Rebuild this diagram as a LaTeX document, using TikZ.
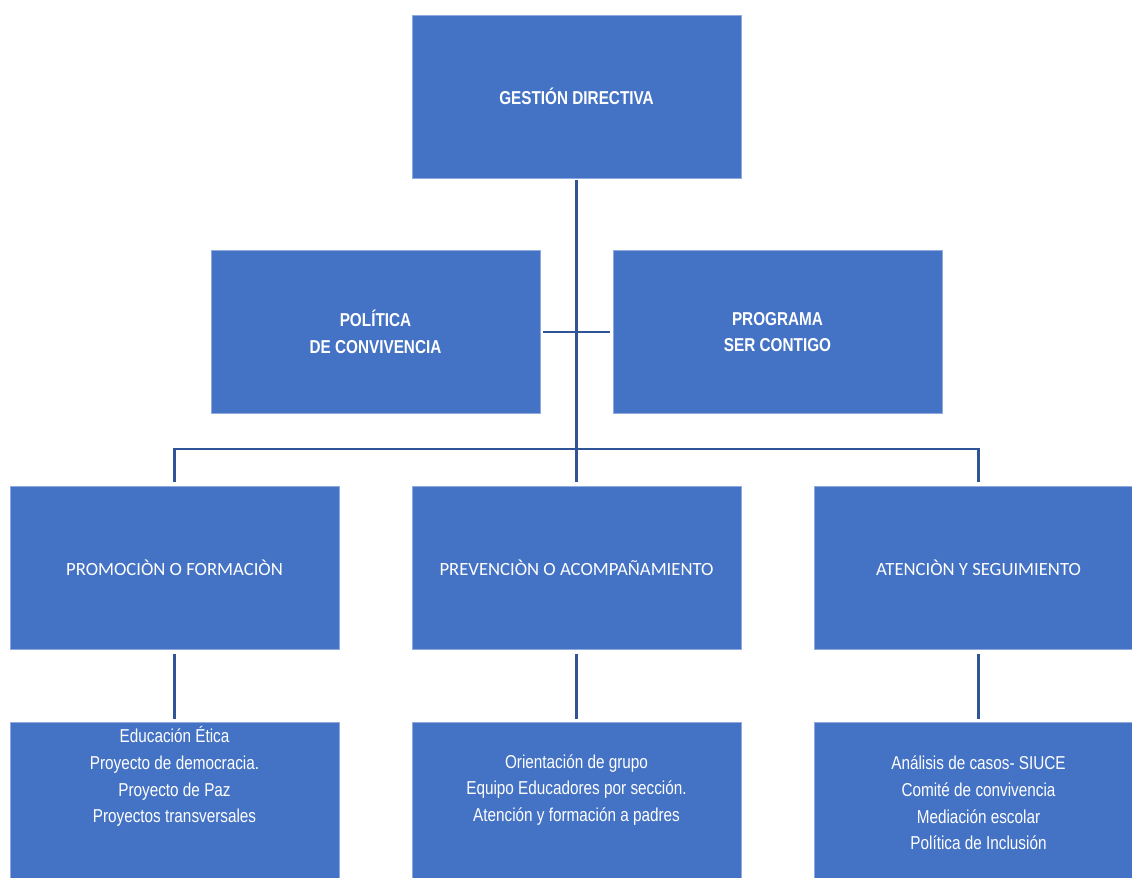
\documentclass[tikz,border=0pt]{standalone}
\usepackage{fontspec}
\setmainfont{Liberation Sans}
\newfontfamily\narrowfont[FakeStretch=0.82]{Liberation Sans}
\newfontfamily\calfont{Carlito}
\definecolor{boxblue}{HTML}{4472C4}
\definecolor{boxedge}{HTML}{8FAADC}
\definecolor{linkblue}{HTML}{2F5597}
\tikzset{every picture/.style={line width=0.75pt}}
\tikzset{
  orgbox/.style={fill=boxblue, draw=boxedge, line width=0.6pt, inner sep=0pt,
    minimum width=246.75pt, minimum height=122.25pt},
  headtxt/.style={text=white, align=center, font=\narrowfont\bfseries\fontsize{14}{20}\selectfont},
  areatxt/.style={text=white, align=center, font=\calfont\fontsize{14}{16}\selectfont},
  listtxt/.style={text=white, align=center, font=\narrowfont\fontsize{14}{20}\selectfont},
  conn/.style={draw=linkblue, line width=2pt},
}

\begin{document}
\begin{tikzpicture}[x=0.75pt,y=0.75pt,yscale=-1,xscale=1]
\clip (0,0) rectangle (1132,878);
\fill[white] (0,0) rectangle (1132,878);
% Top level
\node[orgbox, headtxt] (gd) at (576.5,96.5) {GESTIÓN DIRECTIVA};
% Second level
\node[orgbox, headtxt] (pc) at (375.5,332) {POLÍTICA\\DE CONVIVENCIA};
\node[orgbox, headtxt] (sc) at (777.5,332) {PROGRAMA\\SER CONTIGO};
% Third level
\node[orgbox, areatxt] (pf) at (174.5,568) {PROMOCIÒN O FORMACIÒN};
\node[orgbox, areatxt] (pv) at (576.5,568) {PREVENCIÒN O ACOMPAÑAMIENTO};
\node[orgbox, areatxt] (at) at (978.5,568) {ATENCIÒN Y SEGUIMIENTO};
% Fourth level
\node[orgbox] (pfl) at (174.5,803.5) {};
\node[orgbox] (pvl) at (576.5,803.5) {};
\node[orgbox] (atl) at (978.5,803.5) {};
\node[listtxt] (pft) at (174.5,776.5) {Educación Ética\\Proyecto de democracia.\\Proyecto de Paz\\Proyectos transversales};
\node[listtxt] (pvt) at (576.5,790) {Orientación de grupo\\Equipo Educadores por sección.\\Atención y formación a padres};
\node[listtxt] (att) at (978.5,803) {Análisis de casos- SIUCE\\Comité de convivencia\\Mediación escolar\\Política de Inclusión};
% Connectors
\draw[conn, shorten <=1pt, shorten >=3pt] (gd.south) -- (pv.north);
\draw[conn, shorten <=2pt, shorten >=2pt] (pc.east) -- (sc.west);
\draw[conn, shorten <=3pt, shorten >=3pt] (pf.north) -- ++(0,-37) -| (at.north);
\draw[conn, shorten <=3pt, shorten >=2pt] (pf.south) -- (pfl.north);
\draw[conn, shorten <=3pt, shorten >=2pt] (pv.south) -- (pvl.north);
\draw[conn, shorten <=3pt, shorten >=2pt] (at.south) -- (atl.north);
\end{tikzpicture}
\end{document}
